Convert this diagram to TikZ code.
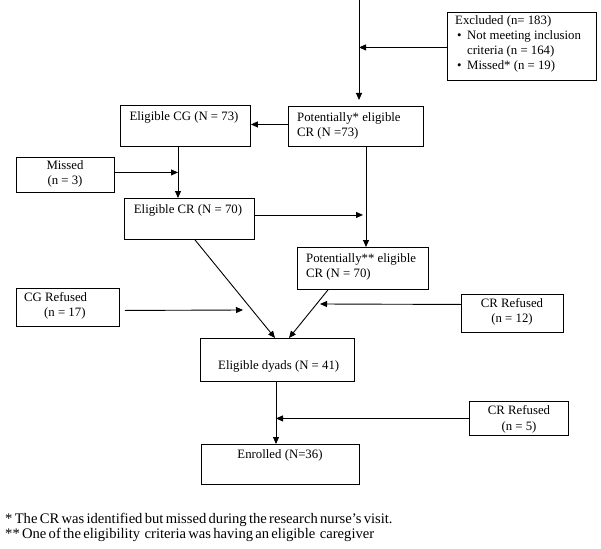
\documentclass[tikz,border=0pt]{standalone}
\usepackage{fontspec}
\setmainfont{Liberation Serif}
\usetikzlibrary{arrows.meta}
\newcommand\fnspacing{\spaceskip=2.3pt plus 1pt\relax}
\begin{document}
\begin{tikzpicture}[x=1pt,y=-1pt,
  box/.style={draw, line width=0.9pt, anchor=north west, inner sep=0pt},
  txt/.style={inner sep=0pt, font=\fontsize{12.8}{15}\selectfont},
  tl/.style={txt, anchor=base west},
  tc/.style={txt, anchor=base},
  fn/.style={inner sep=0pt, anchor=base west, font=\fontsize{14.6}{15}\selectfont},
  arr/.style={line width=0.9pt, -{Triangle[length=7pt,width=6pt]}}]
\useasboundingbox[fill=white] (0,0) rectangle (601,548);
% boxes
\node[box, minimum width=149pt, minimum height=68pt] (excl) at (447,12) {};
\node[box, minimum width=135pt, minimum height=40pt] (pot1) at (288,106) {};
\node[box, minimum width=130pt, minimum height=41pt] (cg) at (120,105) {};
\node[box, minimum width=98pt, minimum height=35pt] (missed) at (16,157) {};
\node[box, minimum width=130pt, minimum height=41pt] (ecr) at (124,198) {};
\node[box, minimum width=131pt, minimum height=42pt] (pot2) at (297,247) {};
\node[box, minimum width=102pt, minimum height=38pt] (crr12) at (461,294) {};
\node[box, minimum width=103pt, minimum height=38pt] (cgr) at (16,288) {};
\node[box, minimum width=154pt, minimum height=43pt] (dyads) at (200,338) {};
\node[box, minimum width=99pt, minimum height=34pt] (crr5) at (469,401) {};
\node[box, minimum width=158pt, minimum height=40pt] (enr) at (201,444) {};
% texts
\node[tl] (t1) at (455,25) {Excluded (n= 183)};
\node[tl] (t1b1) at (457,40) {\textbullet};
\node[tl] (t2) at (467,40) {Not meeting inclusion};
\node[tl] (t3) at (467,55) {criteria (n = 164)};
\node[tl] (t1b2) at (457,70) {\textbullet};
\node[tl] (t4) at (467,70) {Missed* (n = 19)};
\node[tl] (t5) at (297,122) {Potentially* eligible};
\node[tl] (t6) at (297,137) {CR (N =73)};
\node[tc] (t7) at (184,121) {Eligible CG (N = 73)};
\node[tc] (t8) at (65,169) {Missed};
\node[tc] (t9) at (65,184) {(n = 3)};
\node[tc] (t10) at (188,213) {Eligible CR (N = 70)};
\node[tl] (t11) at (306,262) {Potentially** eligible};
\node[tl] (t12) at (306,277) {CR (N = 70)};
\node[tc] (t13) at (512,307) {CR Refused};
\node[tc] (t14) at (512,322) {(n = 12)};
\node[tl] (t15) at (24,301) {CG Refused};
\node[tl] (t16) at (44,316) {(n = 17)};
\node[tl] (t17) at (218,369) {Eligible dyads (N = 41)};
\node[tc] (t18) at (519,414) {CR Refused};
\node[tc] (t19) at (519,430) {(n = 5)};
\node[tc] (t20) at (280,458) {Enrolled (N=36)};
\node[fn] (f1) at (5,523) {\fnspacing * The CR was identified but missed during the research nurse's visit.};
\node[fn] (f2) at (5,538) {\fnspacing ** One of the eligibility\ \ criteria was having an eligible\ \ caregiver};
% connectors
\coordinate (topstart) at (359,0);
\draw[arr, shorten >=6pt] (topstart) -- (topstart |- pot1.north);
\draw[arr] ([yshift=-1pt]excl.west) -- ([yshift=-1pt]excl.west -| topstart);
\draw[arr] ([yshift=2pt]pot1.west) -- ([yshift=2pt]pot1.west -| cg.east);
\coordinate (cgx) at ([xshift=58pt]cg.south west);
\draw[arr] (cgx) -- (cgx |- ecr.north);
\draw[arr] ([yshift=2.5pt]missed.east) -- ([yshift=2.5pt]missed.east -| cgx);
\coordinate (p1x) at ([xshift=78pt]pot1.south west);
\draw[arr] (p1x) -- (p1x |- pot2.north);
\draw[arr, shorten >=3pt] ([yshift=4pt]ecr.east) -- ([yshift=4pt]ecr.east -| p1x);
\draw[arr] ([xshift=71pt]ecr.south west) -- ([xshift=75pt]dyads.north west);
\draw[arr] ([xshift=31pt]pot2.south west) -- ([xshift=89pt]dyads.north west);
\coordinate (r12end) at (320,304);
\draw[arr] ([yshift=9pt]crr12.west) -- (r12end);
\coordinate (cgrend) at (243,310);
\draw[arr] ([xshift=5pt,yshift=-3pt]cgr.east) -- (cgrend);
\coordinate (dyx) at ([xshift=76pt]dyads.south west);
\draw[arr] (dyx) -- (dyx |- enr.north);
\draw[arr] (crr5.west) -- (crr5.west -| dyx);
\end{tikzpicture}
\end{document}
